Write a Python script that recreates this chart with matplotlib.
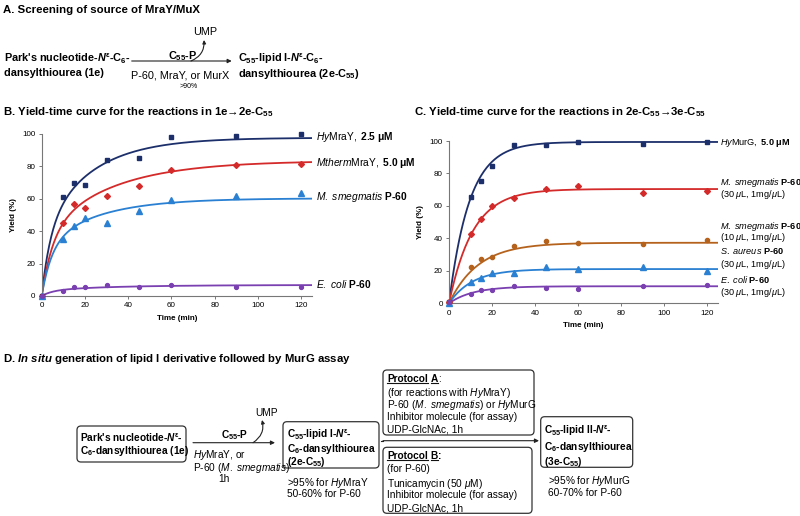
import matplotlib.pyplot as plt
import numpy as np
from matplotlib.patches import FancyArrowPatch, FancyBboxPatch

plt.rcParams['font.family'] = ['Liberation Sans', 'DejaVu Sans']
plt.rcParams['mathtext.fontset'] = 'custom'
plt.rcParams['mathtext.rm'] = 'Liberation Sans'
plt.rcParams['mathtext.it'] = 'Liberation Sans:italic'
plt.rcParams['mathtext.bf'] = 'Liberation Sans:bold'
plt.rcParams['mathtext.bfit'] = 'Liberation Sans:italic:bold'

# ---- data, panel B (1e -> 2e-C55) ----
time_b = [0, 10, 15, 20, 30, 45, 60, 90, 120]
hymray = [0, 61, 69.5, 68.7, 84, 85, 98, 99, 100]
mtherm = [0, 45.3, 56.6, 54.5, 61.5, 68, 78, 80.7, 81.5]
msmeg_b = [0, 35, 43.4, 48, 45, 52.3, 59, 61.5, 63.4]
ecoli_b = [0, 2.9, 5.3, 5.3, 6.6, 5.6, 6.8, 5.6, 5.6]
# two-phase fits: plateau, fast fraction, fast rate, slow rate
plateau_b = [97.7, 83.5, 60.3, 6.8]
fast_frac_b = [0.4, 0.45, 0.5, 0.5]
fast_k_b = [0.25, 0.2, 0.22, 0.2]
slow_k_b = [0.045, 0.032, 0.04, 0.03]

# ---- data, panel C (2e-C55 -> 3e-C55) ----
time_c = [0, 10, 15, 20, 30, 45, 60, 90, 120]
hymurg = [0.5, 65.3, 75.4, 84.6, 97.5, 97.5, 99.4, 98.2, 99.4]
msmeg30 = [0.5, 42.5, 51.8, 59.8, 64.9, 70.6, 72.3, 68.2, 69]
msmeg10 = [0.5, 22.6, 27.5, 28.5, 35.1, 38.2, 37.3, 36.5, 39.3]
saureus = [0, 12.9, 15.8, 18.7, 18.7, 22.2, 21, 22.5, 19.8]
ecoli_c = [0.5, 5.7, 8.4, 8.4, 10.5, 9.7, 8.6, 10.5, 11.4]
plateau_c = [99.4, 70.4, 37.3, 21.1, 10.5]
rate_c = [0.105, 0.09, 0.074, 0.092, 0.089]

navy = '#1c2f6b'
red = '#d42a2a'
blue = '#2a80d2'
purple = '#7a3fb0'
orange = '#b5621d'

fig = plt.figure(figsize=(8, 5.16), dpi=100)
bg = fig.add_axes([0, 0, 1, 1])
bg.set_xlim(0, 800)
bg.set_ylim(516, 0)
bg.axis('off')

TS = 8.2   # titles
FS = 7.3   # scheme text
FA = 7.8   # panel A scheme text


def txt(x, y, s, bold=False, size=FS, **kw):
    bg.text(x, y, s, fontsize=size, fontweight='bold' if bold else 'normal',
            va='center_baseline', **kw)


def arrow(x0, x1, y):
    bg.annotate('', xy=(x1, y), xytext=(x0, y),
                arrowprops=dict(arrowstyle='-|>', lw=0.8, color='#222', mutation_scale=6,
                                shrinkA=0, shrinkB=0))


def ump(x0, y0, x1, y1):
    bg.add_patch(FancyArrowPatch((x0, y0), (x1, y1), connectionstyle='arc3,rad=0.35',
                                 arrowstyle='-|>', mutation_scale=5, lw=0.8, color='#222',
                                 shrinkA=0, shrinkB=0))


def box(x0, y0, x1, y1):
    bg.add_patch(FancyBboxPatch((x0, y0), x1 - x0, y1 - y0,
                                boxstyle='round,pad=0,rounding_size=4',
                                fc='none', ec='#333', lw=0.9))


renderer = fig.canvas.get_renderer()


def run(x, y, parts):
    # parts: (text, bold, underline) or a number meaning a gap in px
    for p in parts:
        if not isinstance(p, tuple):
            x += p
            continue
        s, b, ul = p
        t = bg.text(x, y, s, fontsize=FS, fontweight='bold' if b else 'normal',
                    va='center_baseline')
        bb = t.get_window_extent(renderer)
        pts = bg.transData.inverted().transform(bb.get_points())
        x1 = pts[1][0]
        if ul:
            bg.plot([x, x1], [y + 4.8, y + 4.8], color='#111', lw=0.8)
        x = x1


# ---------------- panel A ----------------
txt(3, 9, 'A. Screening of source of MraY/MuX', bold=True, size=TS)
txt(4, 57, r"Park's nucleotide-$\mathbfit{N}^{\mathbf{\varepsilon}}$-C$_{\mathbf{6}}$-", bold=True, size=FA)
txt(4, 72, 'dansylthiourea (1e)', bold=True, size=FA)
arrow(131.7, 231.7, 61)
txt(183, 54, r'C$_{\mathbf{55}}$-P', bold=True, ha='center', size=FA)
ump(191, 61, 204, 40)
txt(205, 31, 'UMP', ha='center', size=FA)
txt(180, 74, 'P-60, MraY, or MurX', ha='center', size=FA)
txt(189, 86, '>90%', size=5, ha='center')
txt(238, 57, r'C$_{\mathbf{55}}$-lipid I-$\mathbfit{N}^{\mathbf{\varepsilon}}$-C$_{\mathbf{6}}$-', bold=True, size=FA)
txt(238, 72, r'dansylthiourea (2e-C$_{\mathbf{55}}$)', bold=True, size=FA)

# ---------------- panel B ----------------
txt(3, 110, 'B. Yield-time curve for the reactions in 1e\u21922e-C$_{\\mathbf{55}}$',
    bold=True, size=TS)
axb = fig.add_axes([41.7 / 800, 1 - 296 / 516, (312 - 41.7) / 800, (296 - 134) / 516])
tt = np.linspace(0, 125, 400)
series_b = [(hymray, navy, 's', 3.2), (mtherm, red, 'D', 3.0),
            (msmeg_b, blue, '^', 4.2), (ecoli_b, purple, 'o', 2.8)]
for i, (vals, c, m, ms) in enumerate(series_b):
    f = fast_frac_b[i]
    fit = plateau_b[i] * (f * (1 - np.exp(-fast_k_b[i] * tt))
                          + (1 - f) * (1 - np.exp(-slow_k_b[i] * tt)))
    axb.plot(tt, fit, color=c, lw=1.3)
    axb.plot(time_b, vals, ls='none', marker=m, ms=ms, color=c, clip_on=False, zorder=3)
labels_b = [r'$\mathit{Hy}\mathrm{MraY,}$ 2.5 $\mathbf{\mu}$M',
            r'$\mathit{Mtherm}\mathrm{MraY,}$ 5.0 $\mathbf{\mu}$M',
            r'$\mathit{M.\ smegmatis}$ P-60',
            r'$\mathit{E.\ coli}$ P-60']
label_y_b = [98.3, 81.9, 60.9, 7.4]
for s, yv in zip(labels_b, label_y_b):
    axb.text(127, yv, s, fontsize=7.4, fontweight='bold', va='center', clip_on=False)

# ---------------- panel C ----------------
txt(414, 110, 'C. Yield-time curve for the reactions in 2e-C$_{\\mathbf{55}}$\u21923e-C$_{\\mathbf{55}}$',
    bold=True, size=TS)
axc = fig.add_axes([449 / 800, 1 - 303.3 / 516, (718 - 449) / 800, (303.3 - 141) / 516])
series_c = [(hymurg, navy, 's', 3.2), (msmeg30, red, 'D', 3.0), (msmeg10, orange, 'o', 3.0),
            (saureus, blue, '^', 4.2), (ecoli_c, purple, 'o', 2.8)]
for i, (vals, c, m, ms) in enumerate(series_c):
    fit = plateau_c[i] * (1 - np.exp(-rate_c[i] * tt))
    axc.plot(tt, fit, color=c, lw=1.3)
    axc.plot(time_c, vals, ls='none', marker=m, ms=ms, color=c, clip_on=False, zorder=3)
labels_c = [(99, r'$\mathit{Hy}\mathrm{MurG,}$ 5.0 $\mathbf{\mu}$M', True),
            (74.3, r'$\mathit{M.\ smegmatis}$ P-60', True),
            (67.2, r'(30 $\mu$L, 1mg/$\mu$L)', False),
            (47.6, r'$\mathit{M.\ smegmatis}$ P-60', True),
            (40.4, r'(10 $\mu$L, 1mg/$\mu$L)', False),
            (32.2, r'$\mathit{S.\ aureus}$ P-60', True),
            (24, r'(30 $\mu$L, 1mg/$\mu$L)', False),
            (14.4, r'$\mathit{E.\ coli}$ P-60', True),
            (6.5, r'(30 $\mu$L, 1mg/$\mu$L)', False)]
for yv, s, b in labels_c:
    axc.text(125.8, yv, s, fontsize=6.6, fontweight='bold' if b else 'normal',
             va='center', clip_on=False)

for ax in (axb, axc):
    ax.set_xlim(0, 125)
    ax.set_ylim(0, 100)
    ax.set_xticks(range(0, 121, 20))
    ax.set_yticks(range(0, 101, 20))
    for sp in ('top', 'right'):
        ax.spines[sp].set_visible(False)
    for sp in ('left', 'bottom'):
        ax.spines[sp].set_color('#777')
        ax.spines[sp].set_linewidth(0.8)
    ax.tick_params(labelsize=5.8, length=2.5, width=0.7, color='#777', pad=2)
    ax.set_xlabel('Time (min)', fontsize=5.8, fontweight='bold', labelpad=4)
    ax.set_ylabel('Yield (%)', fontsize=5.8, fontweight='bold', labelpad=4)
    ax.patch.set_alpha(0)

# ---------------- panel D ----------------
txt(3, 357, r'D. $\mathbfit{In\ situ}$ generation of lipid I derivative followed by MurG assay',
    bold=True, size=TS)
box(77, 426, 186, 462)
txt(80, 437, r"Park's nucleotide-$\mathbfit{N}^{\mathbf{\varepsilon}}$-", bold=True)
txt(80, 449, r'C$_{\mathbf{6}}$-dansylthiourea (1e)', bold=True)
arrow(193, 275, 442.7)
txt(235, 433, r'C$_{\mathbf{55}}$-P', bold=True, ha='center')
ump(253, 442.7, 262, 420)
txt(267, 412, 'UMP', ha='center')
txt(193, 453, r'$\mathit{Hy}$MraY, or')
txt(193, 466, r'P-60 ($\mathit{M.\ smegmatis}$)')
txt(224, 478, '1h', ha='center')

box(283, 421.7, 379, 468)
txt(287, 433, r'C$_{\mathbf{55}}$-lipid I-$\mathbfit{N}^{\mathbf{\varepsilon}}$-', bold=True)
txt(287, 446.5, r'C$_{\mathbf{6}}$-dansylthiourea', bold=True)
txt(287, 460, r'(2e-C$_{\mathbf{55}}$)', bold=True)
txt(287, 481, r'>95% for $\mathit{Hy}$MraY')
txt(287, 493, '50-60% for P-60')

bg.plot([381, 383], [440.7, 440.7], color='#222', lw=0.8)
arrow(383, 539, 440.7)

box(383, 370, 534, 435)
run(387, 378.5, [('Protocol', True, True), 3, ('A', True, True), (':', False, False)])
txt(387, 391, r'(for reactions with $\mathit{Hy}$MraY)')
txt(387, 403.5, r'P-60 ($\mathit{M.\ smegmatis}$) or $\mathit{Hy}$MurG')
txt(387, 416, 'Inhibitor molecule (for assay)')
txt(387, 428.5, 'UDP-GlcNAc, 1h')

box(383, 447.3, 532, 513.3)
run(387, 455, [('Protocol', True, True), 3, ('B', True, True), (':', True, False)])
txt(387, 468.3, '(for P-60)')
txt(387, 481.7, r'Tunicamycin (50 $\mu$M)')
txt(387, 494.3, 'Inhibitor molecule (for assay)')
txt(387, 507.3, 'UDP-GlcNAc, 1h')

box(540.7, 416.7, 632.7, 467.3)
txt(544, 429, r'C$_{\mathbf{55}}$-lipid II-$\mathbfit{N}^{\mathbf{\varepsilon}}$-', bold=True)
txt(544, 445, r'C$_{\mathbf{6}}$-dansylthiourea', bold=True)
txt(544, 460, r'(3e-C$_{\mathbf{55}}$)', bold=True)
txt(548, 479.5, r'>95% for $\mathit{Hy}$MurG')
txt(548, 492, '60-70% for P-60')

fig.savefig('out.png', dpi=100)
